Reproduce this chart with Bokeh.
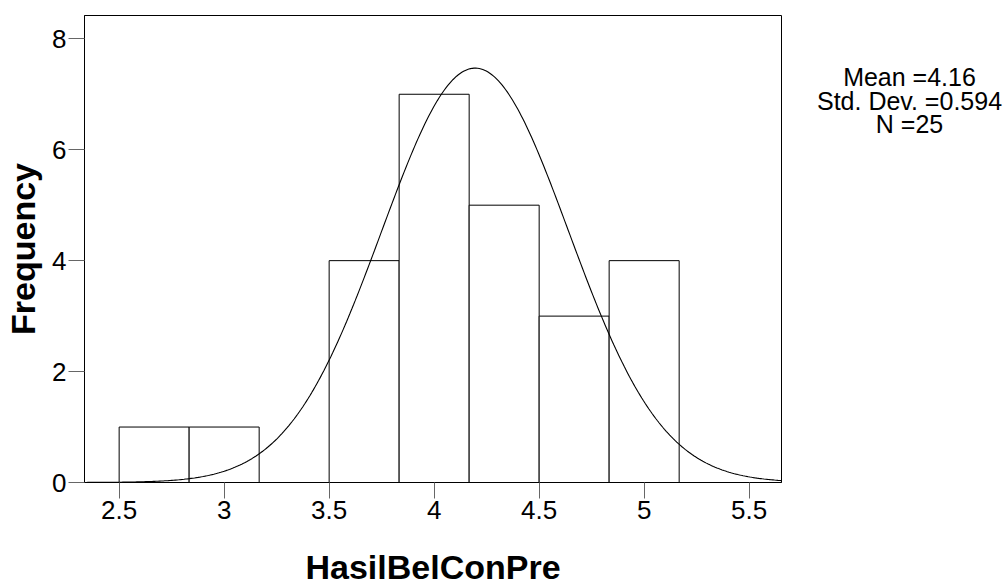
import numpy as np
from bokeh.plotting import figure
from bokeh.layouts import row
from bokeh.models import Range1d, FixedTicker
from bokeh.core.properties import value
from bokeh.embed import file_html
from bokeh.resources import INLINE

# ---- data ----
bin_edges = [2.5, 2.8333, 3.1667, 3.5, 3.8333, 4.1667, 4.5, 4.8333, 5.1667]
counts = [1, 1, 0, 4, 7, 5, 3, 4]
x_ticks = [2.5, 3.0, 3.5, 4.0, 4.5, 5.0, 5.5]
x_tick_labels = ["2.5", "3", "3.5", "4", "4.5", "5", "5.5"]
y_ticks = [0, 2, 4, 6, 8]
stat_mean = "4.16"
stat_sd = "0.594"
stat_n = "25"
# normal curve as drawn in the picture (centre and spread in axis units)
curve_mean = 4.195
curve_sd = 0.445
n_total = 25
bin_width = 1.0 / 3.0

FONT = "Liberation Sans"

p = figure(width=784, height=588, output_backend="svg", toolbar_location=None,
           x_range=Range1d(2.335, 5.654), y_range=Range1d(0, 8.42))
p.min_border_left = 84
p.min_border_right = 3
p.min_border_top = 15
p.min_border_bottom = 106
p.background_fill_color = "white"
p.border_fill_color = "white"
p.outline_line_color = "black"
p.outline_line_width = 1
p.xgrid.visible = False
p.ygrid.visible = False

p.quad(left=bin_edges[:-1], right=bin_edges[1:], top=counts, bottom=0,
       fill_color="white", line_color="black", line_width=1)

xs = np.linspace(2.335, 5.654, 400)
ys = n_total * bin_width / (curve_sd * np.sqrt(2 * np.pi)) * np.exp(-0.5 * ((xs - curve_mean) / curve_sd) ** 2)
p.line(xs, ys, line_color="black", line_width=1.1)

for ax in (p.xaxis[0], p.yaxis[0]):
    ax.axis_line_color = "black"
    ax.major_tick_line_color = "#666666"
    ax.major_tick_out = 16
    ax.major_tick_in = 0
    ax.minor_tick_line_color = None
    ax.major_label_text_font = FONT
    ax.major_label_text_font_size = "26px"
    ax.major_label_text_color = "black"
    ax.axis_label_text_font = FONT
    ax.axis_label_text_font_style = "bold"
    ax.axis_label_text_font_size = "34px"
    ax.axis_label_text_color = "black"
    ax.axis_label_text_line_height = 0.8

p.xaxis.ticker = FixedTicker(ticks=x_ticks)
p.xaxis.major_label_overrides = {t: l for t, l in zip(x_ticks, x_tick_labels)}
p.xaxis.axis_label = "HasilBelConPre"
p.xaxis.major_label_standoff = 2
p.xaxis.axis_label_standoff = 26

p.yaxis.ticker = FixedTicker(ticks=y_ticks)
p.yaxis.axis_label = "Frequency"
p.yaxis.major_label_standoff = 2
p.yaxis.axis_label_standoff = 7

# side panel with the statistics (shares the vertical scale of the histogram)
p2 = figure(width=224, height=588, output_backend="svg", toolbar_location=None,
            x_range=Range1d(0, 224), y_range=p.y_range,
            x_axis_type=None, y_axis_type=None)
p2.min_border = 0
p2.outline_line_color = None
p2.background_fill_color = "white"
p2.border_fill_color = "white"
p2.xgrid.visible = False
p2.ygrid.visible = False
stats = ["Mean =" + stat_mean, "Std. Dev. =" + stat_sd, "N =" + stat_n]
p2.text(x=[125, 125, 125], y=[7.31, 6.886, 6.471], text=stats,
        text_align="center", text_baseline="alphabetic",
        text_font=value(FONT), text_font_size="25px", text_color="black")

layout = row(p, p2, spacing=0)
open("out.html", "w").write(file_html(layout, INLINE))
